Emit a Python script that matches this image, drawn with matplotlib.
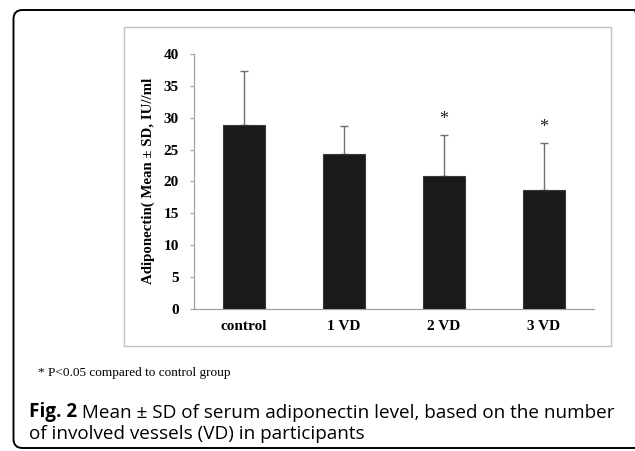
import numpy as np
import matplotlib
matplotlib.use('Agg')
import matplotlib.pyplot as plt
from matplotlib.patches import FancyBboxPatch, Rectangle
from matplotlib.transforms import IdentityTransform

groups = ['control', '1 VD', '2 VD', '3 VD']
means = [28.8, 24.3, 20.9, 18.7]
sds = [8.5, 4.4, 6.4, 7.4]
significant = [False, False, True, True]

footnote = '* P<0.05 compared to control group'
caption_bold = 'Fig. 2'
caption_line1 = ' Mean \u00b1 SD of serum adiponectin level, based on the number'
caption_line2 = 'of involved vessels (VD) in participants'

serif = 'Liberation Serif'
sans = 'Open Sans'

fig = plt.figure(figsize=(6.35, 4.51), dpi=100)
fig.patch.set_facecolor('white')

# outer rounded frame, pixel coords
frame = FancyBboxPatch((13.5, 3), 630, 438, boxstyle='round,pad=0,rounding_size=9',
                       transform=IdentityTransform(), facecolor='none',
                       edgecolor='black', linewidth=1.4)
fig.patches.append(frame)

# excel chart area box
box = Rectangle((124, 105), 487, 319, transform=IdentityTransform(),
                facecolor='none', edgecolor='#c0c0c0', linewidth=1.0)
fig.patches.append(box)

ax = fig.add_axes([194 / 635, 1 - 308.7 / 451, 400 / 635, 254.7 / 451])
x = np.arange(len(groups))
ax.bar(x, means, width=0.42, color='#1a1a1a', edgecolor='#3a3a3a', linewidth=0.8, zorder=3)
ax.errorbar(x, means, yerr=[np.zeros(len(sds)), sds], fmt='none', ecolor='#707070',
            elinewidth=1.0, capsize=3, capthick=1.0, zorder=2)
for i, sig in enumerate(significant):
    if sig:
        ax.text(x[i], means[i] + sds[i] + 2.4, '*', ha='center', va='center',
                fontsize=13, family=serif, color='#222222')

ax.set_xlim(-0.5, len(groups) - 0.5)
ax.set_ylim(0, 40)
ax.set_yticks(np.arange(0, 41, 5))
ax.set_xticks(x)
ax.set_xticklabels(groups)
for lbl in ax.get_xticklabels() + ax.get_yticklabels():
    lbl.set_fontfamily(serif)
    lbl.set_fontweight('bold')
    lbl.set_fontsize(11)
ax.tick_params(axis='x', length=0, pad=8)
ax.tick_params(axis='y', length=3, width=0.8, color='#a0a0a0', pad=8)
for s in ['top', 'right']:
    ax.spines[s].set_visible(False)
for s in ['left', 'bottom']:
    ax.spines[s].set_color('#a0a0a0')
    ax.spines[s].set_linewidth(0.9)
ax.set_ylabel('Adiponectin( Mean \u00b1 SD, IU//ml', family=serif, fontweight='bold',
              fontsize=10.7, labelpad=6)

fig.text(38 / 635, 1 - 373 / 451, footnote, family=serif, fontsize=9.5, va='center')
t = fig.text(29 / 635, 1 - 412 / 451, caption_bold, family=sans, fontweight='bold',
             fontsize=13.6, va='center')
ax.annotate(caption_line1, xy=(1, 0), xycoords=t, va='bottom', ha='left',
            family=sans, fontsize=13.6, annotation_clip=False)
fig.text(29 / 635, 1 - 434 / 451, caption_line2, family=sans, fontsize=13.6, va='center')

fig.savefig('out.png', dpi=100)
